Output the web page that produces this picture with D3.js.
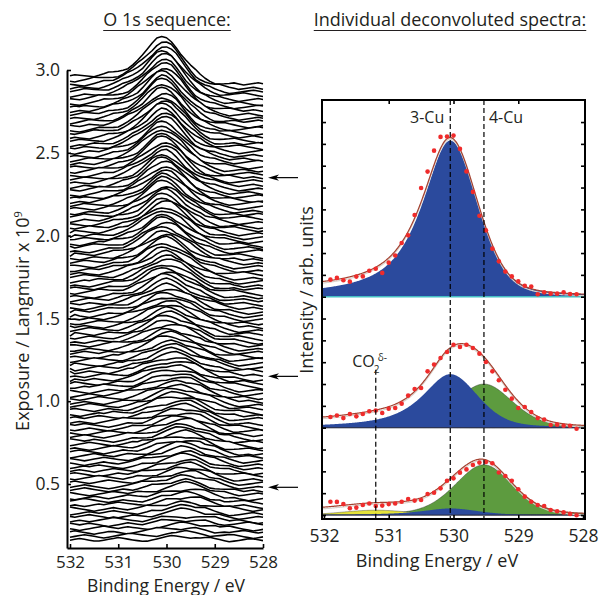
<!DOCTYPE html>
<html>
<head>
<meta charset="utf-8">
<script src="https://cdn.jsdelivr.net/npm/d3@7"></script>
<style>
  body { margin: 0; background: #fff; }
  svg text { font-family: "Open Sans", sans-serif; fill: #231f20; }
</style>
</head>
<body>
<svg id="chart" width="600" height="595"></svg>
<script>
// ---------------- data ----------------
// Binding-energy channels of the O 1s spectra (eV)
const channelEnergies = [532.0, 531.9, 531.8, 531.7, 531.6, 531.5, 531.4, 531.3, 531.2, 531.1,
  531.0, 530.9, 530.8, 530.7, 530.6, 530.5, 530.4, 530.3, 530.2, 530.1,
  530.0, 529.9, 529.8, 529.7, 529.6, 529.5, 529.4, 529.3, 529.2, 529.1,
  529.0, 528.9, 528.8, 528.7, 528.6, 528.5, 528.4, 528.3, 528.2, 528.1, 528.0];

const energyTicks = [532, 531, 530, 529, 528];
const exposureTicks = [0.5, 1.0, 1.5, 2.0, 2.5, 3.0];
const intensityTicks = [0, 1, 2, 3, 4, 5, 6, 7, 8, 9, 10, 11, 12, 13, 14, 15, 16, 17, 18];

// Exposure (Langmuir x 1e9) of every spectrum in the sequence
const exposures = [
  0.1600, 0.1825, 0.2050, 0.2275, 0.2500, 0.2725, 0.2950, 0.3175, 0.3400, 0.3625,
  0.3850, 0.4075, 0.4300, 0.4525, 0.4750, 0.4975, 0.5200, 0.5425, 0.5650, 0.5875,
  0.6100, 0.6325, 0.6550, 0.6775, 0.7000, 0.7225, 0.7450, 0.7675, 0.7900, 0.8125,
  0.8350, 0.8575, 0.8800, 0.9025, 0.9250, 0.9475, 0.9700, 0.9925, 1.0150, 1.0375,
  1.0600, 1.0825, 1.1050, 1.1275, 1.1500, 1.1725, 1.1950, 1.2175, 1.2400, 1.2625,
  1.2850, 1.3075, 1.3300, 1.3525, 1.3750, 1.3975, 1.4200, 1.4425, 1.4650, 1.4875,
  1.5100, 1.5325, 1.5550, 1.5775, 1.6000, 1.6225, 1.6450, 1.6675, 1.6900, 1.7125,
  1.7350, 1.7575, 1.7800, 1.8025, 1.8250, 1.8475, 1.8700, 1.8925, 1.9150, 1.9375,
  1.9600, 1.9825, 2.0050, 2.0275, 2.0500, 2.0725, 2.0950, 2.1175, 2.1400, 2.1625,
  2.1850, 2.2075, 2.2300, 2.2525, 2.2750, 2.2975, 2.3200, 2.3425, 2.3650, 2.3875,
  2.4100, 2.4325, 2.4550, 2.4775, 2.5000, 2.5225, 2.5450, 2.5675, 2.5900, 2.6125,
  2.6350, 2.6575, 2.6800, 2.7025, 2.7250, 2.7475, 2.7700, 2.7925, 2.8150, 2.8375,
  2.8600, 2.8825, 2.9050];

// Height of the 3-Cu (530.05 eV) component in each spectrum
const seq3Cu = [
  0.10, 0.11, 0.13, 0.14, 0.16, 0.19, 0.20, 0.21, 0.24, 0.25,
  0.27, 0.29, 0.31, 0.34, 0.35, 0.38, 0.43, 0.46, 0.49, 0.54,
  0.59, 0.62, 0.65, 0.70, 0.75, 0.78, 0.81, 0.86, 0.91, 0.99,
  1.08, 1.19, 1.29, 1.37, 1.48, 1.58, 1.66, 1.77, 1.87, 1.95,
  2.06, 2.17, 2.24, 2.35, 2.45, 2.56, 2.63, 2.74, 2.85, 2.92,
  3.03, 3.14, 3.21, 3.32, 3.43, 3.51, 3.61, 3.72, 3.80, 3.90,
  4.01, 4.09, 4.20, 4.31, 4.39, 4.50, 4.61, 4.69, 4.80, 4.91,
  4.99, 5.10, 5.21, 5.29, 5.38, 5.48, 5.54, 5.64, 5.73, 5.80,
  5.89, 5.99, 6.05, 6.15, 6.24, 6.31, 6.40, 6.48, 6.54, 6.62,
  6.70, 6.75, 6.84, 6.92, 6.97, 7.05, 7.14, 7.20, 7.29, 7.39,
  7.45, 7.55, 7.65, 7.72, 7.82, 7.91, 7.98, 8.08, 8.18, 8.25,
  8.34, 8.44, 8.51, 8.61, 8.71, 8.77, 8.87, 8.97, 9.04, 9.14,
  9.23, 9.30, 9.40];

// Height of the 4-Cu (529.53 eV) component in each spectrum
const seq4Cu = [
  0.60, 0.72, 0.83, 0.97, 1.08, 1.19, 1.33, 1.44, 1.55, 1.69,
  1.80, 1.91, 2.05, 2.16, 2.30, 2.33, 2.37, 2.38, 2.42, 2.46,
  2.47, 2.50, 2.54, 2.55, 2.56, 2.60, 2.60, 2.58, 2.56, 2.51,
  2.49, 2.47, 2.41, 2.39, 2.37, 2.31, 2.29, 2.27, 2.21, 2.19,
  2.16, 2.11, 2.08, 2.05, 2.00, 1.95, 1.92, 1.89, 1.83, 1.80,
  1.77, 1.71, 1.68, 1.65, 1.59, 1.56, 1.53, 1.47, 1.44, 1.41,
  1.35, 1.32, 1.29, 1.23, 1.20, 1.18, 1.12, 1.10, 1.08, 1.02,
  1.00, 0.98, 0.92, 0.90, 0.88, 0.82, 0.80, 0.78, 0.72, 0.70,
  0.68, 0.62, 0.60, 0.58, 0.54, 0.52, 0.50, 0.46, 0.44, 0.42,
  0.38, 0.33, 0.32, 0.28, 0.25, 0.24, 0.22, 0.20, 0.18, 0.17,
  0.15, 0.13, 0.12, 0.10, 0.08, 0.07, 0.05, 0.03, 0.02, 0.00,
  0.00, 0.00, 0.00, 0.00, 0.00, 0.00, 0.00, 0.00, 0.00, 0.00,
  0.00, 0.00, 0.00];

// Residual (measured minus model) of every spectrum, one digit per channel, 4.5 = zero
const residuals = [
  "45654334567654322345676543445654323456654", "34565432345677654323455676543234566543234",
  "56543234554323456787654345654323445676545", "43234567654565432123456765434565676543234",
  "65456543234565434567654323456543345678765", "34543456787654323456543212345676545654323",
  "54567654343456543234567876543456543234565", "23456545676543234543456765456543212345654",
  "76543234565434567654345654323456787654345", "45434565678765432345654345676543234565432",
  "56787654345654323456545676543234345676543", "32345654345676543456543234567654345432345",
  "65432345676545654323456787654345654345676", "45676543234543456765434565432123456545654",
  "34565432123456787654345654345676543234565", "56543456765432345654323456765456543234567",
  "43456787654345654323456543456765432345654", "67654323456545676543234567654323456787654",
  "45654345676543234565432345654345676543234", "34565676543234565434567876543234565434565",
  "54323456543456787654323456545676543234565", "65434567654323456543456765432345654323456",
  "23456765434565432345678765434565434567654", "56765432345654345676543234565676543234345",
  "45432345676543456787654323456543234567654", "34567654323456565432345676543456787654323",
  "76545654323456543234567654345654323456765", "45676543456787654323456543234565676543234",
  "54323456765432345654345678765432345654345", "43456543234567654345676543234565432345676",
  "65676543234565434565432345676543456765432", "34543234567876543234565434567654323456543",
  "56545676543234565432345676545654323456787", "43234565676543456543234567654323456545676",
  "67654345654323456787654345654323456765432", "45678765432345654345676543234565434567654",
  "34565432345654323456765434567876543234565", "54345676543234567654345654323456765456543",
  "23456543456787654323456545676543234565434", "65432345654345676543234567654345654323456",
  "44565678765432345654323456545676543234565", "57654323456543456765432345654345678765432",
  "36545654323456787654345654323456545676543", "45434567654323456543234567876543456543234",
  "63456543234565676543234565432345676545654", "52345676543456543234567654323456545678765",
  "47654323456565432345676543456787654323456", "34567876543234565434567654323456543234567",
  "56543234565676543234565434567654323456787", "45676545654323456787654345654323456765434",
  "33456543234567654345676543234565432345676", "66543456787654323456543234565676543234565",
  "45434565432345676543456787654323456543456", "54567654323456545676543234565434567654323",
  "37654345654323456787654345654323456765432", "45678765432345654345676543234565434567654",
  "64565432345654323456765434567876543234565", "43345676543234567654345654323456765456543",
  "55456543456787654323456545676543234565434", "36432345654345676543234567654345654323456",
  "47654567876543234565432345654567654323456", "54323456765434565432345678765434565432345",
  "65456543234567654345654323456787654345654", "34567654345654323456765432345654345676543",
  "56543234565432345678765434565432345676545", "43456787654345654323456545676543234565434",
  "67654345654323456765432345654345678765432", "45432345676543456543234567654323456545676",
  "34565676543234565434567876543234565434565", "56787654323456543234565676543456543234567",
  "45654323456787654345654323456765432345654", "33456545676543234565434567654323456787654",
  "66543234565434567654323456545676543234565", "45676543456543234567876543234565432345676",
  "54345654323456765434565432345678765434565", "37654345676543234565434567654323456545654",
  "45432345654345678765432345654323456765432", "64567876543234565434567654345654323456787",
  "43234565676543456787654323456543234567654", "55676543234565434565432345676543456765432",
  "36545654323456787654345654323456765432345", "47654323456545676543234567654345654323456",
  "54567654345654323456787654345676543234565", "65432345676543234565434565432345678765434",
  "34565434567654345676543234565432345654323", "56787654323456543456765434565676543234565",
  "43456543234567654323456545676543456787654", "67654345654323456787654345654323456545676",
  "45676543234565434567654323456765432345654", "34543456787654323456545676543456543234567",
  "56565432345676543234565434567654323456787", "43234567654345654323456787654345676543234",
  "65456787654323456545676543234565432345676", "34565432345654345676543456787654323456543",
  "56543456765432345654323456545676543234565", "45676543234567654345654323456787654345654",
  "54323456545676543234567654345654323456765", "43456787654345654323456765432345676545654",
  "67654323456543456787654323456543234567654", "45654345676543234565434567876543234565434",
  "34567654323456787654345654323456765432345", "56543234565434567654323456545676543456787",
  "43456545676543234565432345678765434565432", "65676543234567654345676543234565432345654",
  "34545654323456543234567654345676543234567", "56765432345676543456543234565434567876543",
  "45432345654323456787654345654323456545676", "54567876543456543234565676543234567654323",
  "43234565432345676543234565434567654345654", "65456543456787654323456543234565676543234",
  "34567654323456545676543234567654323456787", "56543234565434567654345654323456765432345",
  "45676545654323456787654345654323456545676", "34543456787654323456543234565676543234565",
  "56565432345654345676543456787654323456543", "43234567654345654323456765432345676545654",
  "65456787654323456545676543234565432345676", "34565432345676543234565434567654345654323",
  "56787654345654323456787654323456543234565", "45654323456765434565432345676543456787654",
  "54323456545676543234567654345654323456765", "43456765432345654345676543234567654345654",
  "67654345654323456787654345654323456545676"];

// Exposures at which individual spectra were deconvoluted (arrows)
const markedExposures = [2.35, 1.15, 0.48];

// Fit components: 3-Cu, 4-Cu, CO2(delta-)
const componentNames = ["3-Cu", "4-Cu", "CO2"];
const componentCenters = [530.05, 529.53, 531.2];
const componentHwhmHigh = [0.52, 0.53, 0.60];   // high binding-energy side
const componentHwhmLow = [0.50, 0.52, 0.60];    // low binding-energy side
const componentLorentzHigh = [0.85, 0.30, 0.0];
const componentLorentzLow = [0.30, 0.30, 0.0];

// Deconvoluted spectra, top to bottom
const spectrumOffsets = [10, 4, 0];
const fit3Cu = [7.15, 2.45, 0.30];
const fit4Cu = [0.00, 2.00, 2.30];
const fitCO2 = [0.00, 0.10, 0.22];
const fitShirley = [0.30, 0.30, 0.25];

// Measured points (531.9 ... 528.1 eV, 0.1 eV steps), intensity above each baseline
const pointsTop = [0.78, 0.86, 0.75, 0.69, 0.92, 0.93, 1.19, 1.28, 1.09, 1.56,
  1.89, 2.46, 2.81, 3.74, 4.98, 5.73, 6.69, 7.32, 7.34, 7.38,
  6.77, 5.74, 4.80, 3.71, 3.04, 2.20, 1.62, 1.15, 0.93, 0.70,
  0.50, 0.47, 0.11, 0.20, 0.14, 0.14, 0.20, 0.12, 0.11];
const pointsMiddle = [0.49, 0.56, 0.44, 0.63, 0.52, 0.63, 0.75, 0.79, 0.67, 0.87,
  0.90, 1.10, 1.47, 1.77, 1.82, 2.58, 2.89, 3.19, 3.47, 3.80,
  3.70, 3.80, 3.65, 3.39, 3.01, 2.58, 2.17, 1.74, 1.33, 0.90,
  0.95, 0.72, 0.44, 0.37, 0.12, 0.14, 0.09, 0.09, -0.05];
const pointsBottom = [0.61, 0.60, 0.50, 0.31, 0.34, 0.46, 0.53, 0.41, 0.43, 0.50,
  0.53, 0.61, 0.73, 0.66, 0.69, 0.96, 1.02, 1.22, 1.57, 1.68,
  1.94, 2.09, 2.29, 2.40, 2.43, 2.37, 1.95, 1.79, 1.57, 1.18,
  0.84, 0.61, 0.46, 0.41, 0.23, 0.17, 0.12, 0.05, -0.01];
const pointSets = [pointsTop, pointsMiddle, pointsBottom];
const pointEnergies = channelEnergies.slice(1, 40);

// ---------------- styles ----------------
const INK = "#231f20";
const FILLS = { "3-Cu": "#2b4a9d", "4-Cu": "#5d9b3f", "CO2": "#e4e33a" };
const FONT = 18;

// ---------------- helpers ----------------
// asymmetric pseudo-Voigt line shape of one component
function lineShape(E, k, height) {
  const d = E - componentCenters[k];
  const w = d >= 0 ? componentHwhmHigh[k] : componentHwhmLow[k];
  const eta = d >= 0 ? componentLorentzHigh[k] : componentLorentzLow[k];
  const r = d / w;
  return height * (eta / (1 + r * r) + (1 - eta) * Math.exp(-Math.LN2 * r * r));
}

// components plus a Shirley-type step background on an energy grid (descending)
function model(grid, heights, step) {
  const comps = heights.map((h, k) => grid.map(E => h > 0 ? lineShape(E, k, h) : 0));
  const total = grid.map((E, j) => d3.sum(comps, c => c[j]));
  const cum = new Array(grid.length).fill(0);
  let acc = 0;
  for (let j = grid.length - 1; j >= 0; j--) { acc += total[j]; cum[j] = acc; }
  const bg = cum.map(c => acc > 0 ? step * c / acc : 0);
  return { comps, total, bg, envelope: total.map((t, j) => t + bg[j]) };
}

const svg = d3.select("#chart");

// ======================= LEFT PANEL =======================
const xL = d3.scaleLinear().domain([532.062, 528]).range([67, 263]);
const yL = d3.scaleLinear().domain([0.1135, 3.0]).range([548, 70]);
const PX_PER_UNIT = 4.7;    // vertical size of one intensity unit in the waterfall
const RESIDUAL_PX = 0.85;   // pixels per residual digit

svg.append("clipPath").attr("id", "wfClip")
  .append("rect").attr("x", 67).attr("y", 0).attr("width", 198).attr("height", 546.5);

const wf = svg.append("g").attr("clip-path", "url(#wfClip)");

// back (highest exposure) to front
for (let i = exposures.length - 1; i >= 0; i--) {
  const m = model(channelEnergies, [seq3Cu[i], seq4Cu[i], 0], 0.14 * (seq3Cu[i] + seq4Cu[i]));
  const base = yL(exposures[i]);
  const res = residuals[i] || "";
  const pts = channelEnergies.map((E, j) => {
    const dgt = j < res.length ? +res[j] : 4.5;
    return [xL(E), base - PX_PER_UNIT * m.envelope[j] - (dgt - 4.5) * RESIDUAL_PX];
  });
  wf.append("path")
    .attr("d", d3.area().x(p => p[0]).y0(560).y1(p => p[1])(pts))
    .attr("fill", "#fff");
  wf.append("path")
    .attr("d", d3.line()(pts))
    .attr("fill", "none").attr("stroke", "#000")
    .attr("stroke-width", 1.55).attr("stroke-linejoin", "round");
}

// axes
const axL = svg.append("g").attr("transform", "translate(67,0)")
  .call(d3.axisLeft(yL).tickValues(exposureTicks).tickFormat(d3.format(".1f"))
    .tickSize(-4).tickSizeOuter(0).tickPadding(7));
const axB = svg.append("g").attr("transform", "translate(0,548)")
  .call(d3.axisBottom(xL).tickValues(energyTicks).tickFormat(d3.format("d"))
    .tickSize(-4).tickSizeOuter(0).tickPadding(8));
[axL, axB].forEach(g => {
  g.attr("font-family", null).attr("font-size", 17.5);
  g.select(".domain").attr("stroke", "#000").attr("stroke-width", 2);
  g.selectAll(".tick line").attr("stroke", "#000").attr("stroke-width", 1.6);
  g.selectAll("text").attr("fill", INK);
});
axB.attr("font-size", 17);

// axis titles
svg.append("text").attr("x", 166).attr("y", 591.5).attr("text-anchor", "middle")
  .attr("font-size", 17.5).text("Binding Energy / eV");
const yTitle = svg.append("text")
  .attr("transform", "translate(29,321) rotate(-90)")
  .attr("text-anchor", "middle").attr("font-size", FONT);
yTitle.append("tspan").text("Exposure / Langmuir x 10");
yTitle.append("tspan").attr("font-size", 11).attr("dy", -7).text("9");

// arrows pointing at the deconvoluted spectra
markedExposures.forEach(e => {
  const y = yL(e);
  svg.append("line").attr("x1", 274).attr("x2", 298).attr("y1", y).attr("y2", y)
    .attr("stroke", "#000").attr("stroke-width", 1.2);
  svg.append("path")
    .attr("d", `M268,${y}L279,${y - 3.2}L276,${y}L279,${y + 3.2}Z`)
    .attr("fill", "#000");
});

// ======================= RIGHT PANEL =======================
const xR = d3.scaleLinear().domain([532.03, 527.97]).range([322, 585]);
const yR = d3.scaleLinear().domain([-0.183, 19.01]).range([519, 100]);
const fineGrid = d3.range(532.03, 527.965, -0.01);

const heightsBySpectrum = spectrumOffsets.map((o, s) => [fit3Cu[s], fit4Cu[s], fitCO2[s]]);
const drawOrder = [1, 2, 0];   // 4-Cu, CO2, then 3-Cu on top

spectrumOffsets.forEach((off, s) => {
  const m = model(fineGrid, heightsBySpectrum[s], fitShirley[s]);
  const g = svg.append("g");
  drawOrder.forEach(k => {
    if (heightsBySpectrum[s][k] <= 0) return;
    const area = d3.area()
      .x((E) => xR(E))
      .y0(yR(off))
      .y1((E, j) => yR(off + m.comps[k][j]));
    g.append("path").attr("d", area(fineGrid))
      .attr("fill", FILLS[componentNames[k]])
      .attr("stroke", k === 0 ? "none" : "rgba(40,40,40,0.55)")
      .attr("stroke-width", 0.7);
  });
  // baseline
  g.append("line").attr("x1", xR(532.03)).attr("x2", xR(527.97))
    .attr("y1", yR(off)).attr("y2", yR(off))
    .attr("stroke", s === 0 ? "#45bfc4" : "#2a2f4a").attr("stroke-width", s === 0 ? 1.6 : 1);
  // fit envelope
  const env = d3.line().x(E => xR(E)).y((E, j) => yR(off + m.envelope[j]));
  g.append("path").attr("d", env(fineGrid)).attr("fill", "none")
    .attr("stroke", "#d9d2cc").attr("stroke-width", 1.2).attr("transform", "translate(0,1.6)");
  g.append("path").attr("d", env(fineGrid)).attr("fill", "none")
    .attr("stroke", "#a3402f").attr("stroke-width", 1.2);
  // measured points
  g.selectAll("circle").data(pointSets[s]).join("circle")
    .attr("cx", (v, j) => xR(pointEnergies[j]))
    .attr("cy", v => yR(off + v))
    .attr("r", 2.3).attr("fill", "#ef2b2b");
});

// reference energies
const dashTop = [100, 100, yR(6.65)];
componentCenters.forEach((E, k) => {
  svg.append("line").attr("x1", xR(E)).attr("x2", xR(E))
    .attr("y1", dashTop[k]).attr("y2", 519)
    .attr("stroke", "#000").attr("stroke-width", 1.2).attr("stroke-dasharray", "5,3");
});
svg.append("text").attr("x", xR(componentCenters[0]) - 6).attr("y", 123)
  .attr("text-anchor", "end").attr("font-size", 16).text("3-Cu");
svg.append("text").attr("x", xR(componentCenters[1]) + 5).attr("y", 123)
  .attr("font-size", 16).text("4-Cu");
const co2x = xR(componentCenters[2]);
svg.append("text").attr("x", co2x - 1).attr("y", 367).attr("text-anchor", "end")
  .attr("font-size", 16).text("CO");
svg.append("text").attr("x", co2x - 2).attr("y", 373).attr("font-size", 10).text("2");
svg.append("text").attr("x", co2x + 2).attr("y", 361).attr("font-size", 10).text("δ-");

// frame ticks
const styleTicks = g => {
  g.attr("font-family", null).attr("font-size", 17.5);
  g.select(".domain").remove();
  g.selectAll(".tick line").attr("stroke", "#000").attr("stroke-width", 1.6);
  g.selectAll("text").attr("fill", INK);
};
svg.append("g").attr("transform", "translate(322,0)")
  .call(d3.axisRight(yR).tickValues(intensityTicks).tickFormat("").tickSize(4)).call(styleTicks);
svg.append("g").attr("transform", "translate(585,0)")
  .call(d3.axisLeft(yR).tickValues(intensityTicks).tickFormat("").tickSize(4)).call(styleTicks);
svg.append("g").attr("transform", "translate(0,100)")
  .call(d3.axisTop(xR).tickValues([531, 530, 529]).tickFormat("").tickSize(-4)).call(styleTicks);
svg.append("g").attr("transform", "translate(0,519)")
  .call(d3.axisBottom(xR).tickValues(energyTicks).tickFormat(d3.format("d"))
    .tickSize(-4).tickPadding(11)).call(styleTicks);
svg.append("rect").attr("x", 322).attr("y", 100).attr("width", 263).attr("height", 419)
  .attr("fill", "none").attr("stroke", "#000").attr("stroke-width", 2);

svg.append("text").attr("x", 437).attr("y", 567).attr("text-anchor", "middle")
  .attr("font-size", FONT).text("Binding Energy / eV");
svg.append("text").attr("transform", "translate(313,290) rotate(-90)")
  .attr("text-anchor", "middle").attr("font-size", FONT).text("Intensity / arb. units");

// ======================= TITLES =======================
[["O 1s sequence:", 167], ["Individual deconvoluted spectra:", 450]].forEach(([t, cx]) => {
  const txt = svg.append("text").attr("x", cx).attr("y", 26)
    .attr("text-anchor", "middle").attr("font-size", FONT).text(t);
  const w = txt.node().getComputedTextLength();
  svg.append("line").attr("x1", cx - w / 2).attr("x2", cx + w / 2)
    .attr("y1", 30.5).attr("y2", 30.5).attr("stroke", INK).attr("stroke-width", 1);
});
</script>
</body>
</html>
